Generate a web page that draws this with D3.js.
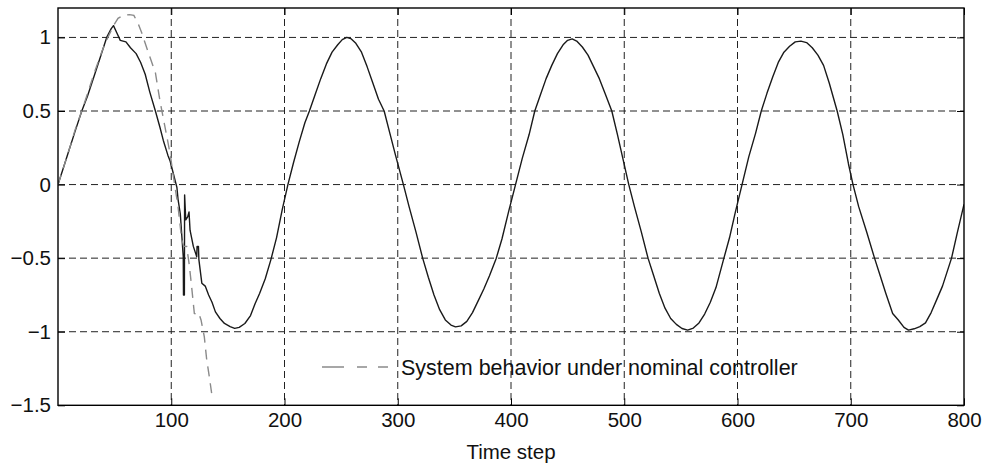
<!DOCTYPE html>
<html lang='en'>

<head>
	<meta charset='UTF-8'/>
	<title>D3: System behavior</title>
	<script src='https://cdnjs.cloudflare.com/ajax/libs/d3/7.8.5/d3.min.js'></script>
	<style>
		body {margin: 0; background: #fff;}
		svg {display: block; font-family: 'Liberation Sans', Arial, Helvetica, sans-serif;}
		.axis text {font-size: 20.5px; fill: #111;}
		.axis .domain {display: none;}
		.axis line {stroke: #000; stroke-width: 1;}
	</style>
</head>

<body>
	<div class='graph'></div>
	<script>
		// controlled system output
		const mainSteps = [0, 5, 10, 15, 21, 26, 32, 38, 43, 47, 49, 52, 55, 60, 64, 69, 73, 77, 81, 86, 90, 93, 97, 99, 102, 103, 105, 106,
			108, 110.6, 110.8, 111.6, 111.8, 112.8, 114.5, 115.7, 116.6, 119.5, 122.5, 122.8, 124, 124.4, 127, 130, 133, 136, 139, 143, 147,
			152, 156, 160, 165, 170, 174, 178, 183, 188, 193, 198, 203, 208, 213, 218, 222, 227, 232, 237, 242, 247, 251, 255, 259, 263, 268,
			273, 278, 283, 288, 293, 298, 305, 310, 316, 322, 327, 332, 337, 342, 347, 351, 356, 361, 366, 371, 376, 381, 387, 392, 398, 404,
			410, 416, 421, 426, 431, 436, 441, 446, 450, 454, 458, 463, 468, 473, 478, 483, 489, 494, 499, 504, 509, 515, 521, 526, 531, 536,
			541, 546, 551, 556, 561, 566, 571, 576, 581, 588, 593, 598, 604, 610, 616, 621, 626, 631, 636, 641, 646, 651, 656, 661, 666, 671,
			676, 681, 688, 693, 698, 702, 707, 714, 721, 726, 731, 737, 742, 747, 751, 756, 761, 766, 771, 776, 781, 789, 794, 800];
		const mainValues = [0, 0.12, 0.24, 0.36, 0.5, 0.6, 0.74, 0.88, 1.0, 1.06, 1.08, 1.03, 0.98, 0.97, 0.93, 0.89, 0.83, 0.75, 0.63, 0.5,
			0.39, 0.3, 0.2, 0.16, 0.07, 0.04, -0.02, -0.1,
			-0.2, -0.49, -0.75, -0.75, -0.07, -0.24, -0.22, -0.186, -0.31, -0.42, -0.49, -0.42, -0.42, -0.51, -0.67, -0.69, -0.75, -0.8,
			-0.865, -0.91, -0.944,
			-0.965, -0.977, -0.97, -0.944, -0.89, -0.81, -0.74, -0.64, -0.51, -0.36, -0.17, 0.0, 0.15, 0.29, 0.42, 0.5, 0.61, 0.72, 0.82,
			0.9, 0.95, 0.985, 1.0, 0.99, 0.96, 0.9,
			0.8, 0.69, 0.58, 0.5, 0.35, 0.2, 0.0, -0.15, -0.32, -0.5, -0.63, -0.75, -0.85, -0.92, -0.955, -0.967, -0.96, -0.93, -0.87, -0.79,
			-0.71, -0.62, -0.5, -0.37, -0.18, 0.0,
			0.18, 0.34, 0.5, 0.61, 0.72, 0.81, 0.89, 0.95, 0.98, 0.99, 0.975, 0.935, 0.88, 0.8, 0.72, 0.62, 0.5, 0.34, 0.17, 0.0, -0.15, -0.32,
			-0.5, -0.62, -0.74, -0.84,
			-0.91, -0.95, -0.978, -0.989, -0.975, -0.94, -0.88, -0.8, -0.7, -0.5, -0.36, -0.19, 0.0, 0.19, 0.35, 0.5, 0.62, 0.73, 0.83, 0.9,
			0.94, 0.97, 0.975, 0.965, 0.93, 0.88,
			0.81, 0.69, 0.5, 0.34, 0.14, 0.0, -0.15, -0.32, -0.5, -0.62, -0.74, -0.876, -0.92, -0.97, -0.989, -0.98, -0.965, -0.94, -0.87,
			-0.78, -0.69, -0.5, -0.33, -0.134];

		// system under nominal controller
		const nominalSteps = [0, 5, 10, 15, 21, 27, 33, 39, 44, 49, 53, 58, 63, 67, 71, 74, 77, 81, 86, 90, 94.5, 99, 102, 106, 109, 111,
			113.6, 116, 118, 120.4, 122, 123.3, 125, 126.3, 129.2, 131.3, 133.5, 135.7];
		const nominalValues = [0, 0.12, 0.24, 0.37, 0.5, 0.64, 0.78, 0.91, 1.0, 1.08, 1.13, 1.15, 1.155, 1.15, 1.09, 1.03, 0.96, 0.87,
			0.76, 0.57, 0.39, 0.21, 0.05, -0.15, -0.36, -0.42, -0.42, -0.55, -0.695, -0.876, -0.88, -0.9, -0.89, -0.92, -1.035, -1.19,
			-1.3, -1.42];

		const xTicks = [100, 200, 300, 400, 500, 600, 700, 800];
		const yTicks = [-1.5, -1, -0.5, 0, 0.5, 1];
		const legendLabel = 'System behavior under nominal controller';
		const xLabel = 'Time step';

		var width = 989;
		var height = 470;
		margin = ({top: 8, right: 25, bottom: 64.7, left: 58});

		var svg = d3
			.select('.graph')
			.append('svg')
			.attr('width', width)
			.attr('height', height);

		const X_SCALE = d3
			.scaleLinear()
			.domain([0, 800])
			.range([margin.left, width - margin.right]);
		const Y_SCALE = d3
			.scaleLinear()
			.domain([-1.5, 1.2])
			.range([height - margin.bottom, margin.top]);

		svg.append('clipPath')
			.attr('id', 'plot-area')
			.append('rect')
			.attr('x', margin.left)
			.attr('y', margin.top)
			.attr('width', width - margin.left - margin.right)
			.attr('height', height - margin.top - margin.bottom);

		// grid
		svg.append('g')
			.selectAll('line')
			.data(yTicks.filter(d => d > -1.5))
			.enter()
			.append('line')
			.attr('x1', margin.left)
			.attr('x2', width - margin.right)
			.attr('y1', d => Y_SCALE(d))
			.attr('y2', d => Y_SCALE(d))
			.attr('stroke', '#222')
			.attr('stroke-dasharray', '7,4');
		svg.append('g')
			.selectAll('line')
			.data(xTicks.filter(d => d < 800))
			.enter()
			.append('line')
			.attr('x1', d => X_SCALE(d))
			.attr('x2', d => X_SCALE(d))
			.attr('y1', margin.top)
			.attr('y2', height - margin.bottom)
			.attr('stroke', '#222')
			.attr('stroke-dasharray', '7,4');

		// axes with inward ticks
		svg.append('g')
			.attr('class', 'axis')
			.attr('transform', 'translate(0, ' + (height - margin.bottom) + ')')
			.call(d3.axisBottom(X_SCALE).tickValues(xTicks).tickSize(-7).tickPadding(7));
		svg.append('g')
			.attr('class', 'axis')
			.attr('transform', 'translate(' + margin.left + ', 0)')
			.call(d3.axisLeft(Y_SCALE).tickValues(yTicks).tickSize(-7).tickPadding(7).tickFormat(d3.format('~g')));
		svg.append('g')
			.attr('class', 'axis')
			.attr('transform', 'translate(' + (width - margin.right) + ', 0)')
			.call(d3.axisRight(Y_SCALE).tickValues(yTicks).tickSize(-7).tickFormat(''));
		svg.append('g')
			.attr('class', 'axis')
			.attr('transform', 'translate(0, ' + margin.top + ')')
			.call(d3.axisTop(X_SCALE).tickValues(xTicks).tickSize(-7).tickFormat(''));

		// lines
		const mainData = mainSteps.map((s, i) => [s, mainValues[i]]);
		const nominalData = nominalSteps.map((s, i) => [s, nominalValues[i]]);
		const line = d3.line()
			.x(d => X_SCALE(d[0]))
			.y(d => Y_SCALE(d[1]));

		svg.append('path')
			.datum(mainData)
			.attr('clip-path', 'url(#plot-area)')
			.attr('d', line)
			.attr('fill', 'none')
			.attr('stroke', '#1a1a1a')
			.attr('stroke-width', 1.4)
			.attr('stroke-linejoin', 'round');
		svg.append('path')
			.datum(nominalData)
			.attr('clip-path', 'url(#plot-area)')
			.attr('d', line)
			.attr('fill', 'none')
			.attr('stroke', '#8a8a8a')
			.attr('stroke-width', 1.4)
			.attr('stroke-dasharray', '10,7');

		// frame
		svg.append('rect')
			.attr('x', margin.left)
			.attr('y', margin.top)
			.attr('width', width - margin.left - margin.right)
			.attr('height', height - margin.top - margin.bottom)
			.attr('fill', 'none')
			.attr('stroke', '#000')
			.attr('stroke-width', 1.4);

		// legend
		svg.append('line')
			.attr('x1', 322)
			.attr('x2', 388)
			.attr('y1', 367)
			.attr('y2', 367)
			.attr('stroke', '#8a8a8a')
			.attr('stroke-width', 1.4)
			.attr('stroke-dasharray', '22,13,10,11,10');
		svg.append('text')
			.attr('x', 401)
			.attr('y', 375)
			.style('font-size', '21.5px')
			.attr('fill', '#111')
			.text(legendLabel);

		svg.append('text')
			.attr('x', (margin.left + width - margin.right) / 2)
			.attr('y', 459)
			.attr('text-anchor', 'middle')
			.style('font-size', '20.5px')
			.attr('fill', '#111')
			.text(xLabel);
	</script>
</body>

</html>
